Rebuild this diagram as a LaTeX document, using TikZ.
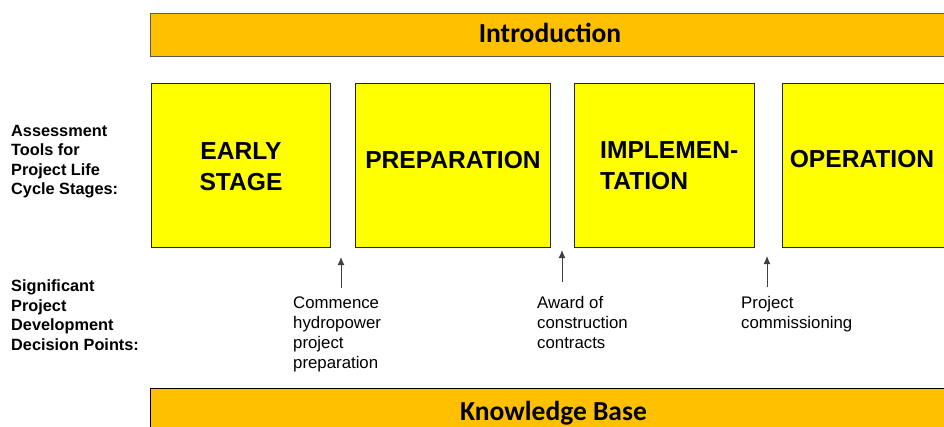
\documentclass[tikz,border=0pt]{standalone}
\usepackage{fontspec}
\setmainfont{Liberation Sans}
\newfontfamily\calibri{Carlito}
\usetikzlibrary{arrows.meta}
\definecolor{barorange}{HTML}{FFC000}
\definecolor{stageyellow}{HTML}{FFFF00}
\definecolor{bargray}{HTML}{5A5A5A}
\definecolor{boxborder}{HTML}{262626}
\definecolor{arrowgray}{HTML}{404040}
\begin{document}
\begin{tikzpicture}[x=1pt,y=-1pt,
  bar/.style={draw=bargray,line width=1.2pt,fill=barorange},
  bartext/.style={font=\calibri\bfseries\fontsize{27.5}{30}\selectfont,inner sep=0pt,anchor=base},
  stagebox/.style={draw=boxborder,line width=1pt,fill=stageyellow,minimum width=#1,minimum height=164pt,inner sep=0pt},
  stagetxt/.style={font=\bfseries\fontsize{24.6}{30.7}\selectfont,inner sep=0pt,align=center},
  sidetxt/.style={font=\bfseries\fontsize{16.3}{19.5}\selectfont,inner sep=0pt,align=left,anchor=base west},
  decitxt/.style={font=\fontsize{16.8}{20}\selectfont,inner sep=0pt,align=left,anchor=base west},
  decarrow/.style={draw=arrowgray,line width=1pt,-{Latex[length=8pt,width=7pt]}}]
\useasboundingbox (0,0) rectangle (944,426);
% bars
\node[bar,minimum width=810pt,minimum height=43pt,anchor=north west,inner sep=0pt] (intro) at (150,13) {};
\node[bartext] (introtxt) at (550,42.5) {Introduction};
\node[bar,draw=black,minimum width=810pt,minimum height=50pt,anchor=north west,inner sep=0pt] (kb) at (150,388) {};
\node[bartext] (kbtxt) at (553.5,420) {Knowledge Base};
% stage boxes
\node[stagebox=179pt,anchor=north west] (b1) at (151,83) {};
\node[stagebox=195pt,anchor=north west] (b2) at (355,83) {};
\node[stagebox=180pt,anchor=north west] (b3) at (574,83) {};
\node[stagebox=180pt,anchor=north west] (b4) at (782,83) {};
\node[stagetxt,anchor=base] (t1) at (241,190) {EARLY\\STAGE};
\node[stagetxt,anchor=base] (t2) at (453,168) {PREPARATION};
\node[stagetxt,align=left,anchor=base west] (t3) at (600,189.5) {IMPLEMEN-\\TATION};
\node[stagetxt,anchor=base] (t4) at (862,167) {OPERATION};
% side labels (base = last line)
\node[sidetxt] (s1) at (11,194.5) {Assessment\\Tools for\\Project Life\\Cycle Stages:};
\node[sidetxt] (s2) at (11,350) {Significant\\Project\\Development\\Decision Points:};
% decision points (base = last line)
\node[decitxt] (d1) at (293,368) {Commence\\hydropower\\project\\preparation};
\node[decitxt] (d2) at (537,348) {Award of\\construction\\contracts};
\node[decitxt] (d3) at (741,328) {Project\\commissioning};
\coordinate (a1s) at (341,288);
\coordinate (a1e) at (341,257);
\coordinate (a2s) at (562,282);
\coordinate (a2e) at (562,250);
\coordinate (a3s) at (767,287);
\coordinate (a3e) at (767,256);
\draw[decarrow] (a1s) -- (a1e);
\draw[decarrow] (a2s) -- (a2e);
\draw[decarrow] (a3s) -- (a3e);
\end{tikzpicture}
\end{document}
